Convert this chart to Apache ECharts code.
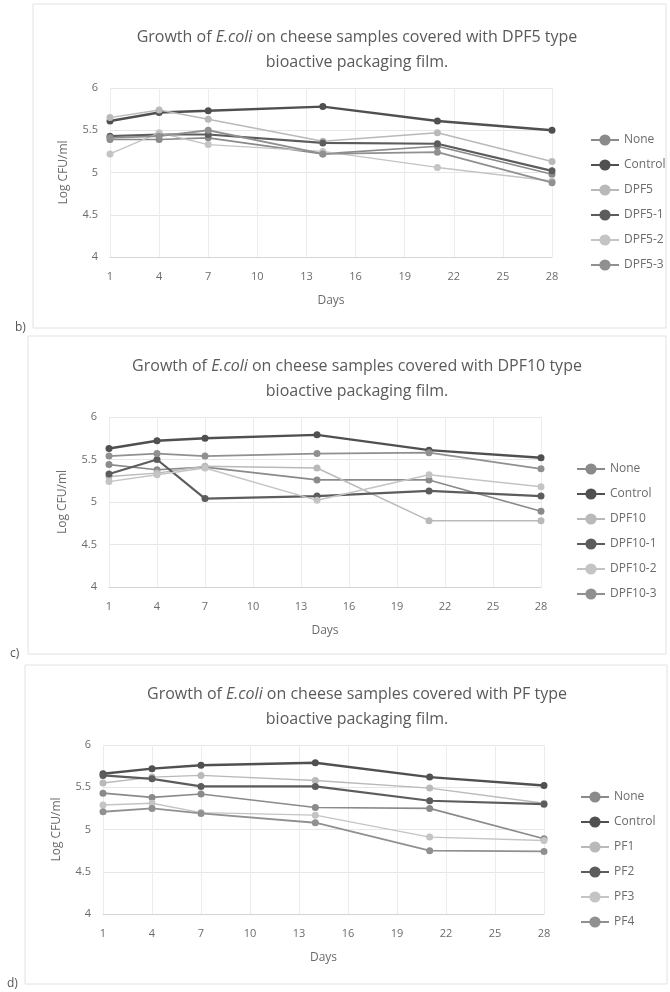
<!DOCTYPE html>
<html>
<head>
<meta charset="utf-8">
<title>Growth of E.coli on cheese samples</title>
<script src="https://cdn.jsdelivr.net/npm/echarts@6/dist/echarts.min.js"></script>
<style>
    html, body { margin: 0; padding: 0; background: #fff; }
    #chart { width: 670px; height: 992px; }
</style>
</head>
<body>
<div id="chart"></div>
<script>
// sampling days (x) and axis range
var days = [1, 4, 7, 14, 21, 28];
var dayTicks = [1, 28, 3];      // min, max, step
var logTicks = [4, 6, 0.5];     // min, max, step

// panel b) DPF5
var filmsB = ['None', 'Control', 'DPF5', 'DPF5-1', 'DPF5-2', 'DPF5-3'];
var noneB    = [5.39, 5.39, 5.41, 5.22, 5.31, 4.98];
var controlB = [5.61, 5.71, 5.73, 5.78, 5.61, 5.50];
var dpf5     = [5.65, 5.74, 5.63, 5.37, 5.47, 5.13];
var dpf5_1   = [5.43, 5.45, 5.45, 5.35, 5.34, 5.02];
var dpf5_2   = [5.22, 5.47, 5.33, 5.25, 5.06, 4.90];
var dpf5_3   = [5.41, 5.43, 5.50, 5.22, 5.24, 4.88];

// panel c) DPF10
var filmsC = ['None', 'Control', 'DPF10', 'DPF10-1', 'DPF10-2', 'DPF10-3'];
var noneC    = [5.44, 5.38, 5.41, 5.26, 5.26, 4.89];
var controlC = [5.63, 5.72, 5.75, 5.79, 5.61, 5.52];
var dpf10    = [5.30, 5.34, 5.42, 5.40, 4.78, 4.78];
var dpf10_1  = [5.33, 5.50, 5.04, 5.07, 5.13, 5.07];
var dpf10_2  = [5.24, 5.32, 5.40, 5.02, 5.32, 5.18];
var dpf10_3  = [5.54, 5.57, 5.54, 5.57, 5.58, 5.39];

// panel d) PF
var filmsD = ['None', 'Control', 'PF1', 'PF2', 'PF3', 'PF4'];
var noneD    = [5.43, 5.38, 5.42, 5.26, 5.25, 4.89];
var controlD = [5.66, 5.72, 5.76, 5.79, 5.62, 5.52];
var pf1      = [5.55, 5.62, 5.64, 5.58, 5.49, 5.31];
var pf2      = [5.64, 5.60, 5.51, 5.51, 5.34, 5.30];
var pf3      = [5.29, 5.31, 5.20, 5.17, 4.91, 4.87];
var pf4      = [5.21, 5.25, 5.19, 5.08, 4.75, 4.74];

var font = 'Open Sans';
var textGrey = '#6b6b6b';
// grey shades of the scanned figure: none, control, light, dark, light2, medium
var shades = ['#8a8a8a', '#505050', '#b9b9b9', '#5c5c5c', '#c4c4c4', '#909090'];
var widths = [1.6, 2.4, 1.4, 2.2, 1.4, 1.8];

var panels = [
    {film: 'DPF5', label: 'b)', names: filmsB, values: [noneB, controlB, dpf5, dpf5_1, dpf5_2, dpf5_3],
        grid: {left: 110, top: 88, width: 442, height: 169}, legendLeft: 585, frame: [33, 4, 633, 324]},
    {film: 'DPF10', label: 'c)', names: filmsC, values: [noneC, controlC, dpf10, dpf10_1, dpf10_2, dpf10_3],
        grid: {left: 109, top: 417, width: 432, height: 170}, legendLeft: 571, frame: [28, 336, 638, 318]},
    {film: 'PF', label: 'd)', names: filmsD, values: [noneD, controlD, pf1, pf2, pf3, pf4],
        grid: {left: 103, top: 745, width: 441, height: 169}, legendLeft: 575, frame: [25, 665, 642, 319]}
];

var option = {
    animation: false,
    backgroundColor: '#fff',
    textStyle: {fontFamily: font},
    title: [], grid: [], xAxis: [], yAxis: [], legend: [], series: [], graphic: []
};

panels.forEach(function (p, i) {
    var g = p.grid;
    var rich = {
        n: {fontSize: 16, color: '#5a5a5a', fontFamily: font, fontWeight: 'normal', lineHeight: 25},
        i: {fontSize: 16, color: '#5a5a5a', fontFamily: font, fontWeight: 'normal', lineHeight: 25, fontStyle: 'italic'}
    };
    option.title.push({
        left: 352, top: g.top - 68, textAlign: 'center',
        text: '{n|Growth of }{i|E.coli}{n| on cheese samples covered with ' + p.film + ' type}\n{n|bioactive packaging film.}',
        textStyle: {fontWeight: 'normal', rich: rich}
    });
    option.grid.push({left: g.left, top: g.top, width: g.width, height: g.height, containLabel: false});
    option.xAxis.push({
        type: 'value', gridIndex: i,
        min: dayTicks[0], max: dayTicks[1], interval: dayTicks[2],
        name: 'Days', nameLocation: 'middle', nameGap: 38,
        nameTextStyle: {color: textGrey, fontSize: 12, fontFamily: font},
        axisLine: {show: true, lineStyle: {color: '#d4d4d4'}},
        axisTick: {show: false},
        axisLabel: {color: textGrey, fontSize: 11, margin: 14, fontFamily: font},
        splitLine: {show: true, lineStyle: {color: '#ececec'}}
    });
    option.yAxis.push({
        type: 'value', gridIndex: i,
        min: logTicks[0], max: logTicks[1], interval: logTicks[2],
        name: 'Log CFU/ml', nameLocation: 'middle', nameGap: 40, nameRotate: 90,
        nameTextStyle: {color: textGrey, fontSize: 12, fontFamily: font},
        axisLine: {show: false}, axisTick: {show: false},
        axisLabel: {color: textGrey, fontSize: 11, margin: 12, fontFamily: font},
        splitLine: {show: true, lineStyle: {color: '#e6e6e6'}}
    });
    option.legend.push({
        orient: 'vertical', left: p.legendLeft, top: g.top + 41,
        itemWidth: 28, itemHeight: 14, itemGap: 13,
        textStyle: {color: textGrey, fontSize: 12, fontFamily: font},
        data: p.names
    });
    p.names.forEach(function (name, k) {
        option.series.push({
            name: name, type: 'line', xAxisIndex: i, yAxisIndex: i,
            symbol: 'circle', symbolSize: 7,
            itemStyle: {color: shades[k]},
            lineStyle: {color: shades[k], width: widths[k]},
            data: days.map(function (d, j) { return [d, p.values[k][j]]; })
        });
    });
    var f = p.frame;
    option.graphic.push({
        type: 'rect', silent: true, z: -1,
        shape: {x: f[0], y: f[1], width: f[2], height: f[3]},
        style: {fill: 'none', stroke: '#e2e2e2', lineWidth: 1}
    });
    option.graphic.push({
        type: 'text', left: f[0] - 18, top: f[1] + f[3] - 6,
        style: {text: p.label, fill: '#555', font: '12px "' + font + '"'}
    });
});

var chart = echarts.init(document.getElementById('chart'));
chart.setOption(option);
window.onresize = function () {
    chart.resize();
};
</script>
</body>
</html>
